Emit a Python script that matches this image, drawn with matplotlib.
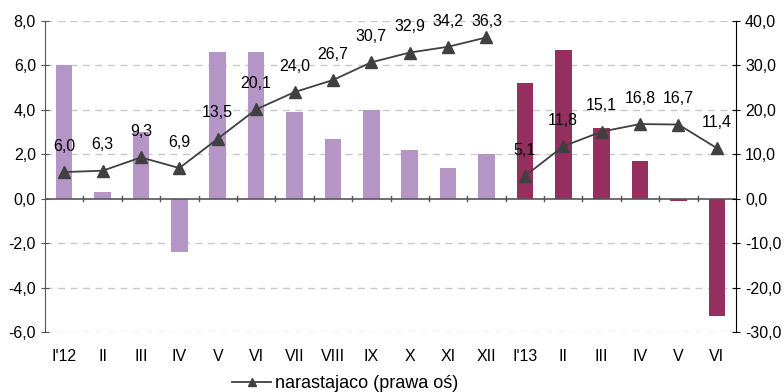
import matplotlib
matplotlib.use("Agg")
import matplotlib.pyplot as plt
import numpy as np
from matplotlib.ticker import FixedLocator, FuncFormatter

plt.rcParams['font.family'] = ['Liberation Sans', 'DejaVu Sans']

categories = ["I'12", "II", "III", "IV", "V", "VI", "VII", "VIII", "IX", "X", "XI", "XII",
              "I'13", "II", "III", "IV", "V", "VI"]
monthly_2012 = [6.0, 0.3, 3.0, -2.4, 6.6, 6.6, 3.9, 2.7, 4.0, 2.2, 1.4, 2.0]
monthly_2013 = [5.2, 6.7, 3.2, 1.7, -0.1, -5.3]
cumulative_2012 = [6.0, 6.3, 9.3, 6.9, 13.5, 20.1, 24.0, 26.7, 30.7, 32.9, 34.2, 36.3]
cumulative_2013 = [5.1, 11.8, 15.1, 16.8, 16.7, 11.4]
legend_label = "narastajaco (prawa oś)"

light = "#B595C5"
dark = "#942F5F"
line_col = "#404040"
fs = 11.5

fig = plt.figure(figsize=(7.84, 3.92), dpi=100)
ax = fig.add_axes([45/784, 1-332/392, (736-45)/784, (332-21)/392])
ax2 = ax.twinx()

x12 = np.arange(len(monthly_2012))
x13 = np.arange(len(monthly_2012), len(categories))
bw = 0.43
ax.bar(x12, monthly_2012, width=bw, color=light, zorder=2)
ax.bar(x13, monthly_2013, width=bw, color=dark, zorder=2)

ax.set_xlim(-0.5, len(categories) - 0.5)
ax.set_ylim(-6, 8)
ax2.set_ylim(-30, 40)

comma = FuncFormatter(lambda v, p: f"{v:.1f}".replace(".", ","))
ax.yaxis.set_major_locator(FixedLocator(np.arange(-6, 8.1, 2)))
ax.yaxis.set_major_formatter(comma)
ax2.yaxis.set_major_locator(FixedLocator(np.arange(-30, 40.1, 10)))
ax2.yaxis.set_major_formatter(comma)

for v in np.arange(-6, 8.1, 2):
    if v != 0:
        ax.axhline(v, color="#C8C8C8", lw=1.0, ls=(0, (5, 4)), zorder=1)
ax.axhline(0, color="#555555", lw=1.2, zorder=3)

# category separators on the zero line
for b in np.arange(0.5, len(categories) - 1, 1.0):
    ax.plot([b, b], [-0.12, 0.12], color="#555555", lw=1.0, zorder=3, clip_on=False)

ax.set_xticks(np.arange(len(categories)))
ax.set_xticklabels(categories, fontsize=fs)
ax.tick_params(axis="x", length=0, pad=12)
ax.tick_params(axis="y", labelsize=fs, direction="inout", length=6, color="#555555")
ax2.tick_params(axis="y", labelsize=fs, direction="inout", length=6, color="black")

for s in ["top", "bottom"]:
    ax.spines[s].set_visible(False)
    ax2.spines[s].set_visible(False)
ax.spines["right"].set_visible(False)
ax.spines["left"].set_color("#555555")
ax2.spines["left"].set_visible(False)
ax2.spines["right"].set_color("black")

mk = dict(color=line_col, lw=1.3, marker="^", markersize=8.5, zorder=5)
ax2.plot(x12, cumulative_2012, label=legend_label, **mk)
ax2.plot(x13, cumulative_2013, **mk)

# value labels above the points, kept inside the plot area
ymax = ax2.get_ylim()[1]
for xs, ys in ((x12, cumulative_2012), (x13, cumulative_2013)):
    for xi, yi in zip(xs, ys):
        ax2.text(xi, min(yi + 5.85, ymax), f"{yi:.1f}".replace(".", ","),
                 ha="center", va="center", fontsize=fs, zorder=6)

fig.legend(loc="center", bbox_to_anchor=(345/784, 1-384/392), frameon=False,
           fontsize=13, handlelength=2.2, handletextpad=0.2, markerscale=0.75)

fig.savefig("out.png", dpi=100)
